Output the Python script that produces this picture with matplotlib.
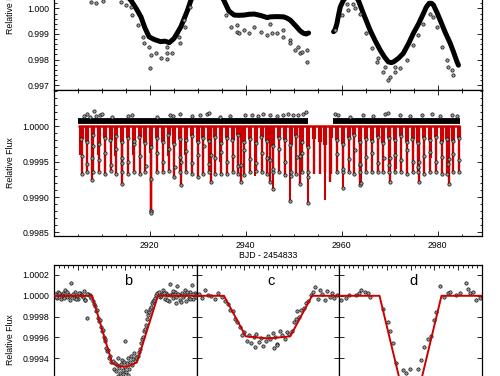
import numpy as np
import matplotlib.pyplot as plt
from matplotlib.ticker import MultipleLocator, FormatStrFormatter

plt.rcParams['font.family'] = ['Liberation Sans', 'DejaVu Sans']
plt.rcParams['font.size'] = 6.3

# ---- top panel: raw light curve (stellar variability) ----
trend_t = [2905.0, 2908.0, 2911.0, 2914.0, 2916.1, 2917.2, 2918.2, 2919.0, 2919.9, 2920.9,
           2922.3, 2923.2, 2924.1, 2925.1, 2925.8, 2926.5, 2927.2, 2927.9, 2928.6, 2930.0,
           2932.0, 2934.0, 2935.5, 2936.5, 2937.6, 2938.6, 2939.7, 2940.7, 2941.8, 2943.2,
           2944.5, 2945.1, 2946.5, 2947.9, 2948.6, 2949.3, 2950.0, 2950.6, 2951.3, 2952.0,
           2952.6, 2953.1]
trend_f = [1.0012, 1.0011, 1.0010, 1.0007, 1.00032, 1.0000, 0.99967, 0.99925, 0.99889, 0.99879,
           0.99870, 0.99872, 0.99866, 0.99883, 0.99905, 0.99928, 0.99960, 0.99993, 1.00032, 1.0008,
           1.0011, 1.0008, 1.0003, 0.99990, 0.99974, 0.99973, 0.99974, 0.99977, 0.99978, 0.99972,
           0.99964, 0.99967, 0.99968, 0.99967, 0.99962, 0.99954, 0.99940, 0.99928, 0.99913, 0.99903,
           0.99900, 0.99904]
trend2_t = [2958.3, 2958.6, 2959.0, 2959.4, 2959.7, 2960.3, 2961.5, 2962.5, 2963.5, 2964.0,
            2964.5, 2965.2, 2965.9, 2966.9, 2968.0, 2968.9, 2969.7, 2970.3, 2970.8, 2971.8,
            2972.8, 2973.9, 2974.9, 2976.0, 2977.0, 2977.6, 2978.2, 2978.7, 2979.1, 2979.8,
            2980.5, 2981.5, 2982.6, 2983.3, 2984.0, 2984.3]
trend2_f = [0.99909, 0.99915, 0.99941, 0.99980, 1.00006, 1.0003, 1.0006, 1.0006, 1.0003, 1.00005,
            0.99980, 0.99948, 0.99915, 0.99876, 0.99837, 0.99810, 0.99791, 0.99788, 0.99791, 0.99805,
            0.99824, 0.99862, 0.99902, 0.99940, 0.99980, 1.00005, 1.0002, 1.0002, 1.00013, 0.99985,
            0.99954, 0.99908, 0.99863, 0.99828, 0.99791, 0.99778]
raw_t = [2907.76, 2908.80, 2910.38, 2914.00, 2915.04, 2916.21, 2916.42, 2917.61, 2918.71, 2918.85,
         2919.90, 2920.25, 2920.10, 2921.29, 2922.46, 2923.71, 2923.58, 2924.75, 2923.71, 2926.14,
         2926.35, 2927.33, 2927.18, 2928.43, 2935.87, 2936.91, 2938.16, 2938.28, 2938.63, 2939.67,
         2940.72, 2941.76, 2943.15, 2944.53, 2945.09, 2945.44, 2946.48, 2947.86, 2947.86, 2949.25,
         2949.25, 2950.29, 2950.98, 2951.33, 2951.69, 2952.73, 2952.85, 2958.62, 2960.02, 2961.06,
         2961.39, 2962.43, 2962.79, 2963.83, 2965.08, 2966.26, 2967.30, 2967.64, 2968.68, 2969.03,
         2969.72, 2970.07, 2971.11, 2971.11, 2972.15, 2973.55, 2974.92, 2975.97, 2977.01, 2978.40,
         2979.09, 2979.80, 2980.84, 2981.88, 2982.21, 2982.92, 2983.25]
raw_f = [1.00026, 1.00022, 1.00028, 1.00026, 1.00013, 1.00006, 0.99974, 0.99935, 0.99887, 0.99866,
         0.99850, 0.99818, 0.99766, 0.99824, 0.99805, 0.99801, 0.99824, 0.99827, 0.99850, 0.99889,
         0.99863, 0.99928, 0.99954, 1.00006, 0.99974, 0.99928, 0.99935, 0.99909, 0.99902, 0.99915,
         0.99902, 0.99928, 0.99909, 0.99896, 0.99941, 0.99902, 0.99902, 0.99915, 0.99889, 0.99876,
         0.99863, 0.99837, 0.99850, 0.99824, 0.99830, 0.99837, 0.99791, 0.99915, 0.99974, 1.00018,
         0.99993, 1.00018, 1.00000, 0.99980, 0.99902, 0.99844, 0.99791, 0.99805, 0.99752, 0.99772,
         0.99720, 0.99733, 0.99752, 0.99772, 0.99766, 0.99798, 0.99857, 0.99896, 0.99941, 0.99980,
         0.99967, 0.99928, 0.99850, 0.99798, 0.99772, 0.99759, 0.99739]

# ---- middle panel: detrended light curve + transit model ----
b_times = [2905.83, 2907.04, 2908.24, 2909.45, 2910.66, 2911.87, 2913.08, 2914.29, 2915.50, 2916.71,
           2917.92, 2919.13, 2920.33, 2921.54, 2922.75, 2923.96, 2925.17, 2926.38, 2927.59, 2928.80,
           2930.01, 2931.21, 2932.42, 2933.63, 2934.84, 2936.05, 2937.26, 2938.47, 2939.68, 2940.89,
           2942.10, 2943.30, 2944.51, 2945.72, 2946.93, 2948.14, 2949.35, 2950.56, 2951.77, 2952.98,
           2954.18, 2955.39, 2956.60, 2957.81, 2959.02, 2960.23, 2961.44, 2962.65, 2963.86, 2965.07,
           2966.27, 2967.48, 2968.69, 2969.90, 2971.11, 2972.32, 2973.53, 2974.74, 2975.95, 2977.16,
           2978.36, 2979.57, 2980.78, 2981.99, 2983.20, 2984.41]
b_depth = [0.99933, 0.99935, 0.99935, 0.99935, 0.99933, 0.99937, 0.99933, 0.99935, 0.99933, 0.99935,
           0.99933, 0.99935, 0.99880, 0.99935, 0.99935, 0.99937, 0.99928, 0.99935, 0.99935, 0.99933,
           0.99928, 0.99933, 0.99935, 0.99933, 0.99933, 0.99933, 0.99935, 0.99933, 0.99931, 0.99935,
           0.99937, 0.99935, 0.99933, 0.99935, 0.99935, 0.99931, 0.99935, 0.99933, 0.99935, 0.99935,
           0.99933, 0.99933, 0.99935, 0.99933, 0.99935, 0.99935, 0.99935, 0.99933, 0.99935, 0.99935,
           0.99935, 0.99935, 0.99935, 0.99935, 0.99935, 0.99935, 0.99933, 0.99935, 0.99935, 0.99933,
           0.99935, 0.99935, 0.99933, 0.99933, 0.99935, 0.99935]
# one extra in-transit point per b transit (part way down the spike)
b_mid = [0.99958, 0.99947, 0.99972, 0.99952, 0.99962, 0.99945, 0.99968, 0.99955, 0.99949, 0.99975,
         0.99958, 0.99944, 0.99925, 0.99962, 0.99950, 0.99968, 0.99942, 0.99957, 0.99965, 0.99948,
         0.99960, 0.99972, 0.99946, 0.99955, 0.99963, 0.99950, 0.99958, 0.99944, 0.99967, 0.99953,
         0.99948, 0.99962, 0.99955, 0.99940, 0.99968, 0.99950, 0.99930, 0.99957, 0.99962, 0.99928,
         0.99950, 0.99946, 0.99925, 0.99958, 0.99961, 0.99940, 0.99953, 0.99966, 0.99945, 0.99957,
         0.99962, 0.99948, 0.99955, 0.99945, 0.99960, 0.99952, 0.99966, 0.99950, 0.99943, 0.99958,
         0.99963, 0.99949, 0.99956, 0.99947, 0.99961, 0.99952]
b_upper = [0.99982, 0.99978, 0.99988, 0.99975, 0.99984, 0.99980, 0.99986, 0.99977, 0.99983, 0.99979,
           0.99985, 0.99976, 0.99970, 0.99984, 0.99978, 0.99987, 0.99975, 0.99982, 0.99980, 0.99986,
           0.99977, 0.99983, 0.99979, 0.99985, 0.99976, 0.99984, 0.99980, 0.99987, 0.99978, 0.99982,
           0.99976, 0.99985, 0.99979, 0.99972, 0.99983, 0.99980, 0.99974, 0.99986, 0.99978, 0.99970,
           0.99982, 0.99978, 0.99974, 0.99984, 0.99980, 0.99975, 0.99983, 0.99987, 0.99977, 0.99982,
           0.99979, 0.99985, 0.99976, 0.99983, 0.99980, 0.99986, 0.99978, 0.99982, 0.99976, 0.99984,
           0.99980, 0.99985, 0.99977, 0.99982, 0.99979, 0.99984]
c_times = [2905.55, 2909.20, 2912.85, 2916.50, 2920.14, 2923.79, 2927.44, 2931.09, 2934.74, 2938.38,
           2942.03, 2945.68, 2949.33, 2952.98, 2956.62, 2960.27, 2963.92, 2967.57, 2971.22, 2974.87,
           2978.51, 2982.16]
c_depth = [0.99960, 0.99960, 0.99958, 0.99960, 0.99962, 0.99958, 0.99960, 0.99955, 0.99950, 0.99945,
           0.99930, 0.99912, 0.99894, 0.99892, 0.99896, 0.99913, 0.99920, 0.99935, 0.99940, 0.99950,
           0.99955, 0.99960]
d_times = [2907.96, 2914.16, 2920.36, 2926.57, 2932.77, 2938.97, 2945.17, 2951.37, 2957.57, 2963.78,
           2969.98, 2976.18, 2982.38]
d_depth = [0.99924, 0.99919, 0.99880, 0.99917, 0.99921, 0.99921, 0.99921, 0.99919, 0.99921, 0.99917,
           0.99921, 0.99921, 0.99919]
d_mid = [0.99955, 0.99948, 0.99877, 0.99950, 0.99960, 0.99945, 0.99952, 0.99958, 0.99950, 0.99946,
         0.99955, 0.99949, 0.99953]
seg_start = [2905.0, 2958.15]
seg_end = [2953.06, 2984.65]
band_level = [1.00007, 1.00007]
high_t = [2906.36, 2907.05, 2907.61, 2908.51, 2908.87, 2909.69, 2910.05, 2912.13, 2915.59, 2916.29,
          2921.50, 2924.27, 2924.96, 2926.35, 2928.79, 2930.51, 2931.91, 2932.45, 2934.68, 2936.76,
          2939.88, 2941.28, 2942.65, 2943.69, 2945.09, 2946.48, 2947.86, 2948.90, 2949.94, 2950.98,
          2952.02, 2952.58, 2958.62, 2959.31, 2961.75, 2964.53, 2966.61, 2969.03, 2969.72, 2972.16,
          2974.24, 2976.67, 2978.76, 2980.49, 2982.92, 2983.96]
high_f = [1.00014, 1.00017, 1.00013, 1.00022, 1.00015, 1.00016, 1.00017, 1.00013, 1.00014, 1.00016,
          1.00013, 1.00016, 1.00014, 1.00017, 1.00014, 1.00016, 1.00017, 1.00018, 1.00013, 1.00014,
          1.00016, 1.00016, 1.00014, 1.00017, 1.00016, 1.00014, 1.00016, 1.00017, 1.00016, 1.00016,
          1.00017, 1.00020, 1.00017, 1.00016, 1.00013, 1.00016, 1.00014, 1.00017, 1.00018, 1.00016,
          1.00014, 1.00016, 1.00017, 1.00014, 1.00016, 1.00014]

# ---- bottom panels: phase-folded transits (hours from mid-transit) ----
b_x = [-1.47, -1.44, -1.41, -1.38, -1.35, -1.32, -1.29, -1.26, -1.23, -1.20, -1.17, -1.14, -1.11,
       -1.08, -1.05, -1.02, -0.99, -0.96, -0.93, -0.90, -0.87, -0.84, -0.81, -0.78, -0.75, -0.72,
       -1.46, -1.40, -1.34, -1.28, -1.22, -1.16, -1.10, -1.04, -0.98, -0.92, -0.86, -0.80, -0.74,
       -0.68, -0.66, -0.64, -0.62, -0.60, -0.58, -0.56, -0.54, -0.52, -0.50, -0.48, -0.46, -0.44,
       -0.42, -0.40, -0.38, -0.36, -0.34, -0.32, -0.30,
       -0.27, -0.24, -0.22, -0.20, -0.18, -0.16, -0.14, -0.12, -0.10, -0.08, -0.06, -0.04, -0.02,
       0.00, 0.02, 0.04, 0.06, 0.08, 0.10, 0.12, 0.14, 0.16, 0.18, 0.20, 0.22, -0.15, 0.05, -0.05,
       0.26, 0.28, 0.30, 0.32, 0.34, 0.36, 0.38, 0.40, 0.42, 0.44, 0.46, 0.48, 0.50, 0.52, 0.54,
       0.56, 0.58, 0.60, 0.62, 0.64, 0.66,
       0.70, 0.73, 0.76, 0.79, 0.82, 0.85, 0.88, 0.91, 0.94, 0.97, 1.00, 1.03, 1.06, 1.09, 1.12,
       1.15, 1.18, 1.21, 1.24, 1.27, 1.30, 1.33, 1.36, 1.39, 1.42, 1.45, 1.48,
       0.75, 0.81, 0.87, 0.93, 0.99, 1.05, 1.11, 1.17, 1.23, 1.29, 1.35, 1.41, 1.47]
b_f = [1.00002, 0.99998, 1.00004, 1.00001, 0.99997, 1.00003, 1.00000, 1.00006, 0.99999, 1.00002,
       0.99996, 1.00012, 1.00001, 0.99998, 1.00004, 1.00000, 0.99997, 1.00003, 1.00001, 0.99999,
       1.00005, 0.99996, 0.99979, 1.00002, 1.00001, 0.99998,
       0.99999, 1.00003, 1.00001, 0.99998, 1.00004, 1.00000, 1.00002, 0.99997, 1.00003, 1.00001,
       0.99996, 1.00002, 1.00000,
       0.99995, 0.99992, 0.99990, 0.99985, 0.99986, 0.99979, 0.99976, 0.99977, 0.99970, 0.99966,
       0.99967, 0.99960, 0.99957, 0.99958, 0.99950, 0.99947, 0.99948, 0.99940, 0.99942, 0.99936,
       0.99937, 0.99930, 0.99935, 0.99928, 0.99933, 0.99940, 0.99931, 0.99926, 0.99934, 0.99938,
       0.99929, 0.99936, 0.99957, 0.99932, 0.99927, 0.99935, 0.99940, 0.99930, 0.99936, 0.99942,
       0.99933, 0.99939, 0.99945, 0.99937, 0.99941, 0.99923, 0.99924, 0.99925,
       0.99942, 0.99946, 0.99949, 0.99955, 0.99958, 0.99960, 0.99966, 0.99968, 0.99972, 0.99985,
       0.99978, 0.99982, 0.99984, 0.99987, 0.99989, 0.99993, 0.99995, 0.99996, 0.99998, 1.00001,
       1.00003,
       1.00004, 0.99999, 1.00002, 1.00006, 0.99997, 1.00003, 1.00001, 0.99995, 1.00011, 1.00002,
       0.99998, 1.00004, 0.99993, 1.00009, 1.00001, 0.99996, 1.00003, 0.99999, 1.00006, 0.99995,
       1.00002, 0.99998, 1.00004, 1.00010, 0.99997, 1.00003, 1.00001,
       1.00000, 1.00003, 0.99996, 1.00001, 1.00005, 0.99999, 1.00002, 0.99994, 1.00001, 1.00004,
       0.99997, 1.00002, 0.99999]
c_x = [-1.45, -1.40, -1.33, -1.26, -1.20, -1.12, -1.05, -0.98,
       -0.90, -0.85, -0.80, -0.75, -0.70, -0.65, -0.60, -0.55, -0.50,
       -0.45, -0.40, -0.35, -0.30, -0.25, -0.20, -0.15, -0.10, -0.05, 0.00, 0.05, 0.10, 0.15, 0.20,
       0.25, 0.30, 0.35, 0.40, 0.45, -0.28, 0.12, 0.18,
       0.50, 0.55, 0.60, 0.62, 0.65, 0.70, 0.75, 0.80, 0.85, 0.90,
       0.95, 1.00, 1.05, 1.10, 1.15, 1.20, 1.25, 1.30, 1.35, 1.40, 1.45]
c_f = [1.00002, 0.99998, 1.00006, 1.00001, 1.00000, 0.99997, 1.00003, 0.99999,
       0.99995, 0.99992, 0.99986, 0.99985, 0.99978, 0.99975, 0.99970, 0.99962, 0.99965,
       0.99957, 0.99962, 0.99955, 0.99960, 0.99963, 0.99956, 0.99959, 0.99952, 0.99957, 0.99961,
       0.99958, 0.99964, 0.99960, 0.99954, 0.99966, 0.99962, 0.99958, 0.99965, 0.99963, 0.99951,
       0.99950, 0.99953,
       0.99966, 0.99975, 0.99978, 0.99985, 0.99980, 0.99986, 0.99988, 0.99993, 0.99995, 1.00001,
       1.00004, 1.00008, 0.99997, 1.00006, 1.00002, 0.99996, 1.00005, 0.99999, 1.00003, 0.99998,
       1.00001]
d_x = [-1.45, -1.35, -1.28, -1.14, -1.07, -1.03, -0.96, -0.89, -0.86,
       -0.58, -0.48, -0.44, -0.37, -0.30, -0.16, -0.02, -0.09, -0.12, 0.05, 0.08,
       0.15, 0.22, 0.29, 0.36, 0.43, 0.50, 0.54,
       0.61, 0.71, 0.78, 0.82, 0.96, 1.03, 1.17, 1.20, 1.24, 1.31, 1.38, 1.45]
d_f = [0.99996, 0.99998, 1.00001, 1.00001, 1.00003, 1.00006, 1.00004, 1.00003, 0.99999,
       0.99987, 0.99975, 0.99966, 0.99955, 0.99935, 0.99929, 0.99930, 0.99926, 0.99905, 0.99898,
       0.99912,
       0.99930, 0.99938, 0.99951, 0.99958, 0.99961, 0.99977, 0.99984,
       1.00009, 0.99999, 1.00003, 1.00004, 1.00001, 1.00003, 1.00012, 1.00007, 1.00003, 1.00004,
       0.99996, 0.99998]
# model breakpoints (hours, flux)
b_mx = [-1.5, -0.70, -0.28, -0.10, 0.05, 0.24, 0.68, 1.5]
b_mf = [1.0, 1.0, 0.99935, 0.99932, 0.99932, 0.99936, 1.0, 1.0]
c_mx = [-1.5, -0.93, -0.47, 0.0, 0.47, 0.93, 1.5]
c_mf = [1.0, 1.0, 0.99961, 0.99959, 0.99961, 1.0, 1.0]
d_mx = [-1.5, -0.65, -0.10, 0.10, 0.65, 1.5]
d_mf = [1.0, 1.0, 0.99895, 0.99895, 1.0, 1.0]
panel_names = ['b', 'c', 'd']

RED = '#cc0000'
pt = dict(ls='none', marker='o', ms=2.4, mfc='#9a9a9a', mec='#111111', mew=0.5)


def style(ax):
    ax.tick_params(direction='in', which='both', top=True, right=True, width=0.6)
    ax.tick_params(which='major', length=3.5)
    ax.tick_params(which='minor', length=1.8)
    for s in ax.spines.values():
        s.set_linewidth(0.9)


def in_data(times):
    t = np.asarray(times)
    ok = np.zeros(t.shape, bool)
    for a, b in zip(seg_start, seg_end):
        ok |= (t >= a) & (t <= b)
    return ok


fig = plt.figure(figsize=(5, 3.76), dpi=100)

# top
ax1 = fig.add_axes([0.108, 0.7606, 0.856, 0.3191])
ax1.plot(trend_t, trend_f, color='k', lw=3.6, solid_capstyle='round', zorder=3)
ax1.plot(trend2_t, trend2_f, color='k', lw=3.6, solid_capstyle='round', zorder=3)
ax1.plot(raw_t, raw_f, zorder=4, **pt)
ax1.set_xlim(2900.1, 2989.2)
ax1.set_ylim(0.99681, 1.0015)
ax1.xaxis.set_major_locator(MultipleLocator(20))
ax1.xaxis.set_minor_locator(MultipleLocator(5))
ax1.yaxis.set_major_locator(MultipleLocator(0.001))
ax1.yaxis.set_minor_locator(MultipleLocator(0.0002))
ax1.yaxis.set_major_formatter(FormatStrFormatter('%.3f'))
ax1.set_xticklabels([])
ax1.set_ylabel('Relative Flux')
ax1.yaxis.set_label_coords(-0.091, 0.68)
style(ax1)

# middle
ax2 = fig.add_axes([0.108, 0.3723, 0.856, 0.3883])
bt = np.asarray(b_times)
ct = np.asarray(c_times)
dt = np.asarray(d_times)
ax2.hlines(1.0, seg_start[0], seg_end[1], color=RED, lw=1.8, zorder=2)
ax2.vlines(b_times, b_depth, 1.0, color=RED, lw=1.7, zorder=2)
ax2.vlines(c_times, c_depth, 1.0, color=RED, lw=1.5, zorder=2)
ax2.vlines(d_times, d_depth, 1.0, color=RED, lw=1.7, zorder=2)
# broad upper part of the spikes (ingress/egress)
ax2.vlines(b_times, b_upper, 1.0, color=RED, lw=3.0, zorder=2)
ax2.hlines(band_level, seg_start, seg_end, color='k', lw=4.2, zorder=3)
ax2.plot(high_t, high_f, zorder=4, **pt)
mb = in_data(b_times)
ax2.plot(bt[mb], np.asarray(b_depth)[mb], zorder=4, **pt)
ax2.plot(bt[mb] + 0.03, np.asarray(b_mid)[mb], zorder=4, **pt)
ax2.plot(bt[mb] - 0.03, np.asarray(b_upper)[mb], zorder=4, **pt)
md = in_data(d_times)
ax2.plot(dt[md], np.asarray(d_depth)[md], zorder=4, **pt)
ax2.plot(dt[md], np.asarray(d_mid)[md], zorder=4, **pt)
mc = in_data(c_times) & (np.asarray(c_depth) < 0.9993)
ax2.plot(ct[mc], np.asarray(c_depth)[mc], zorder=4, **pt)
ax2.set_xlim(2900.1, 2989.2)
ax2.set_ylim(0.99845, 1.00051)
ax2.xaxis.set_major_locator(MultipleLocator(20))
ax2.xaxis.set_minor_locator(MultipleLocator(5))
ax2.set_yticks([0.9985, 0.9990, 0.9995, 1.0000])
ax2.yaxis.set_minor_locator(MultipleLocator(0.0001))
ax2.yaxis.set_major_formatter(FormatStrFormatter('%.4f'))
ax2.set_xlabel('BJD - 2454833', labelpad=1)
ax2.set_ylabel('Relative Flux')
ax2.yaxis.set_label_coords(-0.091, 0.5)
style(ax2)

# bottom row
lefts = [0.108, 0.394, 0.678]
widths = [0.286, 0.284, 0.286]
xs = [b_x, c_x, d_x]
fs = [b_f, c_f, d_f]
mxs = [b_mx, c_mx, d_mx]
mfs = [b_mf, c_mf, d_mf]
for i in range(3):
    ax = fig.add_axes([lefts[i], -0.117, widths[i], 0.4122])
    ax.plot(xs[i], fs[i], zorder=2, **pt)
    ax.plot(mxs[i], mfs[i], color=RED, lw=1.4, zorder=3)
    ax.set_xlim(-1.5, 1.5)
    ax.set_ylim(0.998806, 1.000296)
    ax.xaxis.set_major_locator(MultipleLocator(0.5))
    ax.xaxis.set_minor_locator(MultipleLocator(0.1))
    ax.yaxis.set_major_locator(MultipleLocator(0.0002))
    ax.yaxis.set_major_formatter(FormatStrFormatter('%.4f'))
    ax.set_xticklabels([])
    ax.text(0.52, 0.9, panel_names[i], transform=ax.transAxes, fontsize=10.5,
            ha='center', va='center')
    style(ax)
    if i == 0:
        ax.set_ylabel('Relative Flux')
        ax.yaxis.set_label_coords(-0.273, 0.52)
    else:
        ax.set_yticklabels([])

fig.savefig('out.png', dpi=100)
